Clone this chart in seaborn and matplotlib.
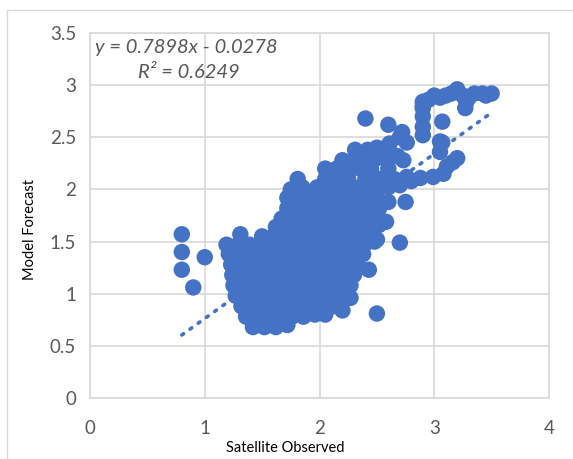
import matplotlib
matplotlib.use("Agg")
import matplotlib.pyplot as plt
import seaborn as sns
import pandas as pd

# values (row by row through the point cloud)
observed = [
	# left outliers
	0.80, 0.80, 0.80, 0.90, 1.00,
	# bottom of the cloud
	1.42, 1.52, 1.62, 1.72,
	1.36, 1.46, 1.56, 1.66, 1.76, 1.86, 1.96, 2.05, 2.20, 2.50,
	1.32, 1.42, 1.52, 1.62, 1.72, 1.82, 1.92, 2.02, 2.12,
	1.27, 1.37, 1.47, 1.57, 1.67, 1.77, 1.87, 1.97, 2.07, 2.17, 2.24, 2.27,
	1.25, 1.35, 1.45, 1.55, 1.65, 1.75, 1.85, 1.95, 2.05, 2.15, 2.27,
	1.24, 1.34, 1.44, 1.54, 1.64, 1.74, 1.84, 1.94, 2.04, 2.14, 2.24, 2.30, 2.43,
	1.23, 1.33, 1.43, 1.53, 1.63, 1.73, 1.83, 1.93, 2.03, 2.13, 2.23, 2.33,
	1.21, 1.31, 1.41, 1.51, 1.61, 1.71, 1.81, 1.91, 2.01, 2.11, 2.21, 2.31, 2.38,
	1.19, 1.29, 1.39, 1.49, 1.59, 1.69, 1.79, 1.89, 1.99, 2.09, 2.19, 2.29, 2.39, 2.48, 2.70,
	# middle of the cloud
	1.31, 1.50, 1.60, 1.70, 1.80, 1.90, 2.00, 2.10, 2.20, 2.30, 2.40, 2.50,
	1.62, 1.72, 1.82, 1.92, 2.02, 2.12, 2.22, 2.32, 2.42, 2.52,
	1.67, 1.77, 1.87, 1.97, 2.07, 2.17, 2.27, 2.37, 2.47, 2.58,
	1.72, 1.82, 1.92, 2.02, 2.12, 2.22, 2.32, 2.42, 2.52, 2.60, 2.75,
	1.72, 1.82, 1.92, 2.02, 2.12, 2.22, 2.32, 2.42, 2.50,
	# upper part and the band towards 3
	1.75, 1.85, 1.98, 2.10, 2.20, 2.30, 2.40, 2.50, 2.60, 2.70, 2.80,
	1.81, 2.05, 2.15, 2.25, 2.40, 2.53, 2.65, 2.76, 2.88, 2.99, 3.08,
	2.05, 2.15, 2.25, 2.35, 2.45, 2.60, 3.11, 3.16,
	2.20, 2.30, 2.40, 2.50, 2.58, 2.68, 2.73, 3.20,
	2.31, 2.42, 2.50, 2.60, 2.76, 3.05, 3.05,
	2.61, 2.70, 3.07,
	2.72, 2.90, 2.90,
	2.60, 2.90, 3.07,
	2.40, 2.90,
	2.90, 2.90, 3.27,
	2.95, 3.00, 3.05, 3.10, 3.15, 3.20, 3.25, 3.28, 3.30, 3.35, 3.42, 3.45, 3.50,
]
forecast = [
	1.57, 1.40, 1.23, 1.06, 1.35,
	0.68, 0.68, 0.68, 0.70,
	0.78, 0.78, 0.78, 0.78, 0.78, 0.78, 0.80, 0.80, 0.84, 0.81,
	0.88, 0.88, 0.88, 0.88, 0.88, 0.88, 0.88, 0.88, 0.88,
	0.98, 0.98, 0.98, 0.98, 0.98, 0.98, 0.98, 0.98, 0.98, 0.98, 0.98, 0.96,
	1.08, 1.08, 1.08, 1.08, 1.08, 1.08, 1.08, 1.08, 1.08, 1.08, 1.08,
	1.18, 1.18, 1.18, 1.18, 1.18, 1.18, 1.18, 1.18, 1.18, 1.18, 1.18, 1.18, 1.23,
	1.28, 1.28, 1.28, 1.28, 1.28, 1.28, 1.28, 1.28, 1.28, 1.28, 1.28, 1.28,
	1.38, 1.38, 1.38, 1.38, 1.38, 1.38, 1.38, 1.38, 1.38, 1.38, 1.38, 1.38, 1.38,
	1.47, 1.47, 1.47, 1.47, 1.47, 1.47, 1.47, 1.47, 1.47, 1.47, 1.47, 1.47, 1.47, 1.50, 1.49,
	1.57, 1.55, 1.55, 1.55, 1.55, 1.55, 1.55, 1.55, 1.55, 1.55, 1.55, 1.52,
	1.64, 1.64, 1.64, 1.64, 1.64, 1.64, 1.64, 1.64, 1.64, 1.66,
	1.72, 1.72, 1.72, 1.72, 1.72, 1.72, 1.72, 1.72, 1.72, 1.69,
	1.82, 1.82, 1.82, 1.82, 1.82, 1.82, 1.82, 1.82, 1.82, 1.88, 1.88,
	1.92, 1.92, 1.92, 1.92, 1.92, 1.92, 1.92, 1.92, 1.92,
	2.00, 2.02, 2.02, 2.02, 2.02, 2.02, 2.02, 2.02, 2.02, 2.04, 2.08,
	2.10, 2.10, 2.10, 2.10, 2.10, 2.10, 2.10, 2.12, 2.11, 2.12, 2.15,
	2.20, 2.20, 2.20, 2.20, 2.20, 2.20, 2.22, 2.26,
	2.28, 2.28, 2.28, 2.30, 2.30, 2.32, 2.28, 2.30,
	2.38, 2.38, 2.40, 2.42, 2.45, 2.36, 2.46,
	2.44, 2.50, 2.45,
	2.55, 2.52, 2.60,
	2.62, 2.70, 2.65,
	2.68, 2.78,
	2.80, 2.84, 2.78,
	2.86, 2.90, 2.88, 2.90, 2.92, 2.96, 2.90, 2.84, 2.88, 2.92, 2.92, 2.90, 2.92,
]

# trendline shown on the chart
slope = 0.7898
intercept = -0.0278
r2 = 0.6249

blue = "#4472C4"
grid_grey = "#D9D9D9"
text_grey = "#595959"

def plot_forecast_vs_observed():
	data = pd.DataFrame({"Observed": observed, "Forecast": forecast})
	trend = pd.DataFrame({"Observed": [min(observed), max(observed)]})
	trend["Forecast"] = slope * trend["Observed"] + intercept

	sns.set_style("white")
	plt.rcParams["font.family"] = ["Lato", "DejaVu Sans"]

	fig = plt.figure(figsize=(5.73, 4.59), dpi=100)
	ax = fig.add_axes([90 / 573, 1 - 398 / 459, 459 / 573, 365 / 459])

	sns.scatterplot(data=data, x="Observed", y="Forecast", ax=ax,
		color=blue, s=140, edgecolor="none", linewidth=0, zorder=3)
	sns.lineplot(data=trend, x="Observed", y="Forecast", ax=ax,
		color=blue, linewidth=2.6, linestyle=(0, (0.6, 2.2)),
		dash_capstyle="round", zorder=4)

	ax.set_xlim(0, 4)
	ax.set_ylim(0, 3.5)
	ax.set_xticks([0, 1, 2, 3, 4])
	ax.set_yticks([0, 0.5, 1, 1.5, 2, 2.5, 3, 3.5])
	ax.set_yticklabels(["0", "0.5", "1", "1.5", "2", "2.5", "3", "3.5"])
	ax.grid(True, color=grid_grey, linewidth=1.2, zorder=0)
	ax.set_axisbelow(True)
	for side in ax.spines.values():
		side.set_color(grid_grey)
		side.set_linewidth(1.2)
	ax.tick_params(axis="both", length=0, labelsize=13.5, colors=text_grey)
	ax.tick_params(axis="x", pad=16)
	ax.tick_params(axis="y", pad=10)
	ax.set_xlabel("")
	ax.set_ylabel("")

	fig.text(285 / 573, 1 - 448 / 459, "Satellite Observed", ha="center", va="center",
		fontsize=10.5, color="black")
	fig.text(30 / 573, 1 - 229 / 459, "Model Forecast", ha="center", va="center",
		rotation=90, fontsize=10.5, color="black")

	fig.text(95 / 573, 1 - 48 / 459, f"y = {slope}x - {abs(intercept):.4f}",
		ha="left", va="center", fontsize=14.5, style="italic", color=text_grey)
	fig.text(138 / 573, 1 - 73 / 459, f"R² = {r2}",
		ha="left", va="center", fontsize=14.5, style="italic", color=text_grey)

	# outer chart frame, cut off on the right and bottom like the screenshot
	fig.add_artist(plt.Line2D([7 / 573, 7 / 573], [0, 1 - 10 / 459],
		transform=fig.transFigure, color=grid_grey, linewidth=1))
	fig.add_artist(plt.Line2D([7 / 573, 1], [1 - 10 / 459, 1 - 10 / 459],
		transform=fig.transFigure, color=grid_grey, linewidth=1))

	fig.savefig("out.png", dpi=100)

plot_forecast_vs_observed()
